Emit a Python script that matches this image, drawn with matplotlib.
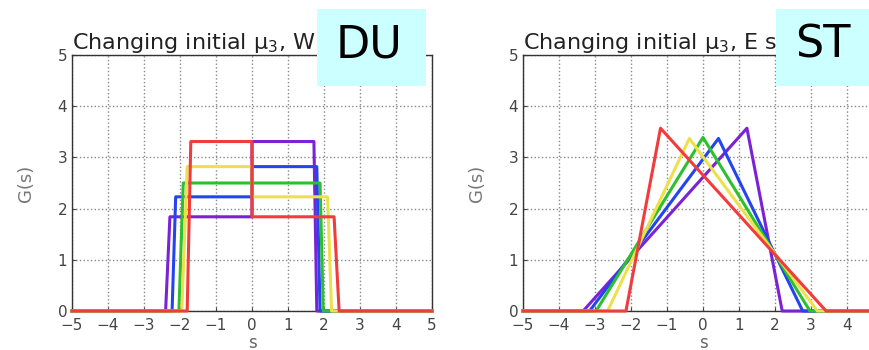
import matplotlib
matplotlib.use("Agg")
import matplotlib.pyplot as plt
from matplotlib.patches import Rectangle

# curve order: purple, blue, green, yellow, red
colors = ["#7b22d6", "#2445ee", "#2cc02c", "#eee04a", "#f03c3c"]

# DU panel: piecewise flat profile, step at s = 0
du_left_foot = [-2.40, -2.22, -2.03, -1.95, -1.80]
du_left_top = [-2.28, -2.12, -1.91, -1.80, -1.70]
du_right_top = [1.72, 1.80, 1.89, 2.10, 2.28]
du_right_foot = [1.80, 1.89, 1.98, 2.21, 2.42]
du_height_neg = [1.84, 2.23, 2.50, 2.82, 3.31]
du_height_pos = [3.31, 2.82, 2.50, 2.23, 1.84]

# ST panel: triangular profile
st_left_foot = [-3.33, -3.15, -2.97, -2.65, -2.14]
st_peak_s = [1.22, 0.43, 0.0, -0.38, -1.18]
st_peak_g = [3.57, 3.37, 3.39, 3.37, 3.57]
st_right_foot = [2.20, 2.77, 2.97, 3.18, 3.42]

ticks = [-5, -4, -3, -2, -1, 0, 1, 2, 3, 4, 5]
yticks = [0, 1, 2, 3, 4, 5]

fig = plt.figure(figsize=(8.69, 3.5), dpi=100)
ax1 = fig.add_axes([72 / 869, 39 / 350, 360 / 869, 256 / 350])
ax2 = fig.add_axes([523 / 869, 39 / 350, 360 / 869, 256 / 350])


def style(ax, title):
    ax.set_xlim(-5, 5)
    ax.set_ylim(0, 5)
    ax.set_xticks(ticks)
    ax.set_yticks(yticks)
    ax.grid(True, linestyle=":", color="#888888", linewidth=1.0)
    ax.tick_params(labelsize=11, colors="#444444", length=3, direction="in")
    ax.tick_params(axis="x", pad=5)
    for sp in ax.spines.values():
        sp.set_color("#333333")
        sp.set_linewidth(1.0)
    ax.set_title(title, loc="left", fontsize=16, color="#222222", pad=3)
    ax.set_ylabel("G(s)", fontsize=13, color="#777777", labelpad=16)
    ax.set_xlabel("s", fontsize=12, color="#666666", labelpad=1)


for i, c in enumerate(colors):
    xs = [-5, du_left_foot[i], du_left_top[i], 0, 0, du_right_top[i], du_right_foot[i], 5]
    ys = [0, 0, du_height_neg[i], du_height_neg[i], du_height_pos[i], du_height_pos[i], 0, 0]
    ax1.plot(xs, ys, color=c, lw=2.2, clip_on=False, zorder=3)

    xs = [-5, st_left_foot[i], st_peak_s[i], st_right_foot[i], 5]
    ys = [0, 0, st_peak_g[i], 0, 0]
    ax2.plot(xs, ys, color=c, lw=2.2, clip_on=False, zorder=3)

style(ax1, "Changing initial \u03bc$_3$, W scale")
style(ax2, "Changing initial \u03bc$_3$, E scale")
# last label of the right panel falls outside the picture
ax2.get_xticklabels()[-1].set_visible(False)

# label boxes
for x0, w, lab in [(317, 109, "DU"), (776, 100, "ST")]:
    fig.patches.append(Rectangle((x0 / 869, 1 - 86 / 350), w / 869, 77 / 350,
                                 transform=fig.transFigure, facecolor="#ccffff",
                                 edgecolor="none", zorder=5))
    fig.text((x0 + 52) / 869 if lab == "DU" else (x0 + 47) / 869, 1 - 45 / 350, lab,
             fontsize=32, ha="center", va="center", color="black", zorder=6)

fig.savefig("out.png", dpi=100)
